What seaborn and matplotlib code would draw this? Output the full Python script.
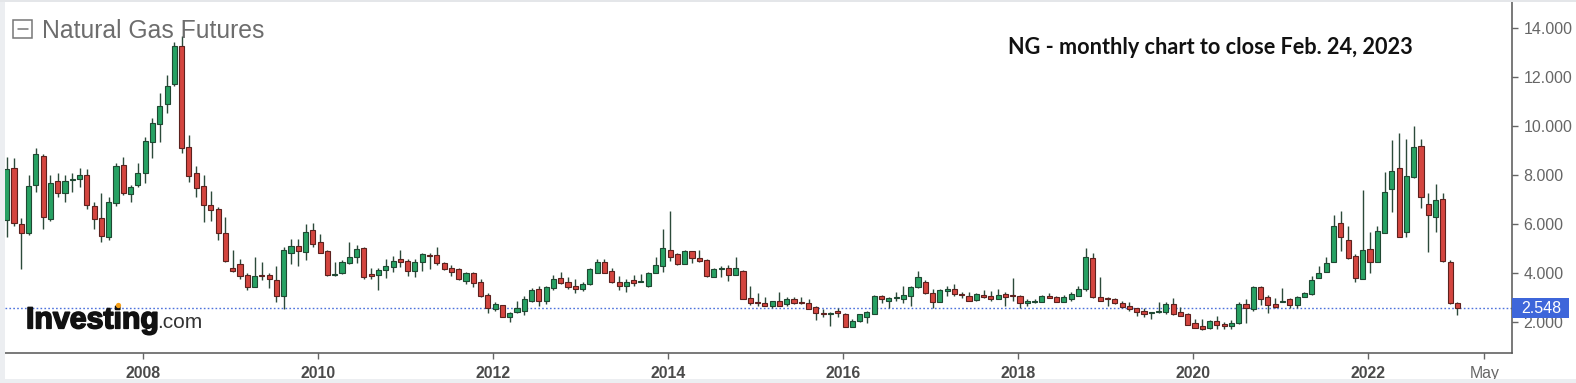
import numpy as np
import pandas as pd
import seaborn as sns
import matplotlib
matplotlib.use('Agg')
from matplotlib import pyplot as plt
from matplotlib import patheffects
from matplotlib.lines import Line2D
from matplotlib.patches import Rectangle
import matplotlib.transforms as mtransforms

# NG monthly candles, Jul 2006 .. Feb 2023
start_month = '2006-07-01'

opens = [
    6.15, 8.30, 5.98, 5.61, 7.58, 8.79, 6.22, 7.74, 7.27, 7.80,
    7.83, 7.99, 6.73, 6.26, 5.45, 6.86, 8.40, 7.24, 7.58, 8.08,
    9.35, 10.07, 10.89, 11.73, 13.29, 9.14, 8.08, 7.55, 6.77, 6.59,
    5.61, 4.20, 4.36, 3.89, 3.43, 3.93, 3.93, 3.70, 3.05, 4.82,
    5.09, 4.86, 5.77, 5.27, 4.89, 3.91, 3.98, 4.41, 4.65, 5.02,
    3.94, 3.93, 4.11, 4.22, 4.57, 4.49, 4.08, 4.45, 4.73, 4.72,
    4.42, 4.18, 4.14, 3.67, 3.98, 3.61, 3.09, 2.51, 2.68, 2.20,
    2.38, 2.45, 2.86, 3.32, 2.86, 3.36, 3.77, 3.63, 3.45, 3.35,
    3.54, 4.00, 4.45, 4.08, 3.61, 3.47, 3.70, 3.62, 3.46, 3.98,
    4.27, 4.93, 4.76, 4.38, 4.89, 4.60, 4.52, 3.84, 4.15, 4.18,
    3.91, 4.08, 2.96, 2.78, 2.75, 2.66, 2.85, 2.71, 2.92, 2.80,
    2.75, 2.59, 2.37, 2.31, 2.45, 2.31, 1.77, 2.03, 2.18, 2.31,
    3.05, 2.84, 2.95, 2.93, 3.06, 3.40, 3.63, 3.18, 2.82, 3.27,
    3.32, 3.15, 3.04, 2.89, 3.10, 3.06, 2.93, 3.13, 3.07, 3.05,
    2.75, 2.79, 2.82, 3.01, 3.00, 2.82, 2.93, 3.06, 3.32, 4.61,
    3.00, 2.94, 2.91, 2.78, 2.64, 2.55, 2.43, 2.35, 2.39, 2.38,
    2.71, 2.41, 2.31, 1.93, 1.84, 1.73, 2.04, 1.90, 1.84, 1.93,
    2.71, 2.52, 3.43, 3.02, 2.72, 2.79, 2.92, 2.68, 3.02, 3.12,
    3.80, 4.05, 4.45, 6.02, 5.34, 4.69, 3.73, 4.97, 4.45, 5.64,
    7.42, 8.30, 5.68, 7.91, 9.20, 6.81, 6.29, 7.02, 4.43, 2.78,
]
highs = [
    8.75, 8.68, 6.23, 8.00, 9.12, 8.85, 8.00, 8.07, 8.00, 8.07,
    8.27, 8.23, 6.91, 7.25, 7.09, 8.48, 8.72, 7.59, 8.48, 9.54,
    10.32, 11.37, 12.09, 13.45, 13.69, 9.64, 8.37, 8.00, 7.36, 6.70,
    6.27, 4.93, 4.55, 4.00, 4.63, 4.43, 4.00, 4.28, 5.07, 5.37,
    5.37, 5.99, 6.03, 5.59, 4.93, 4.43, 4.51, 5.25, 5.13, 5.07,
    4.18, 4.18, 4.57, 4.70, 4.93, 4.55, 4.55, 4.82, 4.82, 5.05,
    4.46, 4.30, 4.18, 4.04, 4.04, 3.74, 3.19, 2.82, 2.68, 2.41,
    2.85, 3.05, 3.37, 3.46, 3.46, 3.91, 4.02, 3.82, 3.73, 3.64,
    4.18, 4.55, 4.55, 4.18, 3.88, 3.74, 3.91, 3.95, 4.05, 4.63,
    5.79, 6.54, 4.82, 4.93, 4.91, 4.93, 4.57, 4.18, 4.28, 4.32,
    4.63, 4.12, 3.46, 3.16, 3.02, 2.85, 3.20, 3.02, 3.02, 3.02,
    2.93, 2.64, 2.52, 2.40, 2.57, 2.37, 2.10, 2.30, 2.43, 3.09,
    3.11, 3.02, 3.20, 3.46, 3.47, 4.09, 3.71, 3.33, 3.33, 3.46,
    3.53, 3.20, 3.20, 3.16, 3.30, 3.24, 3.33, 3.20, 3.77, 3.09,
    2.92, 2.92, 3.11, 3.16, 3.07, 3.09, 3.20, 3.46, 5.02, 4.79,
    3.82, 3.02, 2.95, 2.86, 2.79, 2.57, 2.57, 2.40, 2.80, 2.82,
    2.95, 2.59, 2.36, 2.10, 2.10, 2.08, 2.24, 2.00, 2.06, 2.82,
    2.92, 3.46, 3.46, 3.09, 2.96, 3.39, 2.96, 3.06, 3.23, 3.88,
    4.29, 4.66, 6.36, 6.53, 5.91, 4.76, 7.39, 5.65, 5.91, 8.13,
    9.43, 9.71, 9.46, 10.02, 9.46, 7.25, 7.62, 7.25, 4.52, 2.82,
]
lows = [
    5.48, 5.93, 4.14, 5.55, 7.32, 5.79, 6.12, 7.09, 6.91, 7.32,
    7.52, 6.61, 5.78, 5.25, 5.34, 6.73, 7.18, 6.91, 7.52, 7.69,
    8.71, 9.36, 10.52, 11.64, 8.89, 7.73, 7.09, 6.08, 6.12, 5.34,
    4.45, 4.04, 3.73, 3.30, 3.43, 3.71, 3.37, 2.82, 2.51, 4.34,
    4.28, 4.51, 5.07, 4.82, 3.87, 3.88, 3.95, 4.34, 4.39, 3.73,
    3.73, 3.30, 3.77, 4.02, 4.22, 3.88, 3.84, 4.09, 4.15, 4.32,
    4.12, 3.88, 3.71, 3.54, 3.41, 3.02, 2.36, 2.44, 2.18, 2.00,
    2.36, 2.27, 2.80, 2.64, 2.72, 3.30, 3.55, 3.33, 3.16, 3.27,
    3.50, 3.98, 3.98, 3.59, 3.30, 3.23, 3.46, 3.61, 3.43, 3.98,
    4.04, 4.49, 4.32, 4.34, 4.39, 4.46, 3.82, 3.82, 3.84, 3.66,
    3.91, 2.92, 2.68, 2.66, 2.64, 2.55, 2.64, 2.66, 2.72, 2.72,
    2.51, 2.06, 2.18, 1.82, 2.18, 1.77, 1.77, 2.00, 1.93, 2.30,
    2.75, 2.57, 2.86, 2.75, 2.64, 3.38, 3.14, 2.57, 2.80, 3.05,
    3.05, 2.96, 2.84, 2.84, 2.95, 2.86, 2.93, 2.64, 2.86, 2.57,
    2.66, 2.75, 2.82, 2.98, 2.79, 2.79, 2.86, 3.05, 3.26, 2.95,
    2.86, 2.66, 2.72, 2.55, 2.44, 2.24, 2.20, 2.13, 2.36, 2.33,
    2.27, 2.24, 1.85, 1.74, 1.66, 1.69, 1.72, 1.72, 1.72, 1.91,
    1.94, 2.43, 2.68, 2.37, 2.55, 2.79, 2.55, 2.55, 3.00, 3.09,
    3.77, 4.02, 4.45, 4.90, 4.56, 3.64, 3.73, 3.98, 4.43, 5.62,
    6.50, 5.45, 5.45, 7.86, 6.64, 4.84, 5.68, 4.45, 2.72, 2.27,
]
closes = [
    8.26, 6.04, 5.63, 7.55, 8.85, 6.29, 7.67, 7.27, 7.74, 7.85,
    8.00, 6.79, 6.22, 5.50, 6.90, 8.36, 7.27, 7.49, 8.08, 9.39,
    10.12, 10.84, 11.63, 13.29, 9.12, 7.95, 7.47, 6.79, 6.55, 5.63,
    4.48, 4.08, 3.87, 3.43, 3.87, 3.85, 3.73, 3.05, 4.93, 5.09,
    4.90, 5.65, 5.16, 4.83, 3.91, 3.95, 4.43, 4.65, 4.97, 3.84,
    3.87, 4.11, 4.27, 4.49, 4.45, 4.08, 4.45, 4.76, 4.69, 4.41,
    4.14, 4.05, 3.73, 4.00, 3.59, 3.05, 2.57, 2.71, 2.20, 2.37,
    2.55, 2.93, 3.29, 2.86, 3.40, 3.76, 3.59, 3.40, 3.35, 3.55,
    4.14, 4.45, 4.00, 3.61, 3.47, 3.63, 3.60, 3.64, 4.00, 4.31,
    5.00, 4.65, 4.38, 4.89, 4.59, 4.50, 3.88, 4.14, 4.17, 3.91,
    4.18, 2.93, 2.75, 2.77, 2.66, 2.85, 2.66, 2.92, 2.75, 2.75,
    2.53, 2.37, 2.30, 2.37, 2.37, 1.80, 2.04, 2.30, 2.41, 3.05,
    2.93, 2.97, 2.96, 3.09, 3.43, 3.81, 3.16, 2.82, 3.29, 3.32,
    3.12, 3.10, 2.86, 3.13, 3.02, 2.91, 3.09, 3.00, 3.05, 2.75,
    2.84, 2.81, 3.06, 2.99, 2.82, 3.00, 3.12, 3.33, 4.65, 3.00,
    2.86, 2.92, 2.75, 2.61, 2.50, 2.38, 2.30, 2.37, 2.41, 2.71,
    2.31, 2.25, 1.86, 1.76, 1.71, 2.04, 1.88, 1.82, 1.95, 2.71,
    2.56, 3.43, 2.93, 2.68, 2.61, 2.82, 2.68, 3.02, 3.19, 3.71,
    4.00, 4.41, 5.91, 5.48, 4.59, 3.80, 4.93, 4.45, 5.72, 7.32,
    8.18, 5.48, 7.96, 9.16, 7.11, 6.36, 6.98, 4.48, 2.75, 2.548,
]

tick_years = [2008, 2010, 2012, 2014, 2016, 2018, 2020, 2022]
y_ticks = [2, 4, 6, 8, 10, 12, 14]

df = pd.DataFrame({'date': pd.date_range(start_month, periods=len(closes), freq='MS'),
                   'open': opens, 'high': highs, 'low': lows, 'close': closes})
df['x'] = np.arange(len(df))
df['up'] = df['close'] >= df['open']

sns.set_theme(style='white')
plt.rcParams['font.family'] = ['Liberation Sans', 'DejaVu Sans']

W, H = 1576, 383
fig = plt.figure(figsize=(W / 100, H / 100), dpi=100)
fig.patch.set_facecolor('white')


def px(x, y):
    # pixel position (top-left origin) -> figure fraction
    return x / W, 1 - y / H


ax = fig.add_axes([5 / W, 1 - 353.3 / H, (1511.7 - 5) / W, 353.3 / H])
ax.set_facecolor('white')

# candles
green, red = '#27a163', '#d4453f'
body_low = df[['open', 'close']].min(axis=1)
body_h = (df['close'] - df['open']).abs().clip(lower=0.05)
ax.vlines(df['x'], df['low'], df['high'], color='#2c4a3a', lw=1.0, zorder=2)
ax.bar(df['x'], body_h, bottom=body_low, width=0.7,
       color=np.where(df['up'], green, red),
       edgecolor=np.where(df['up'], '#1f4832', '#5c211e'),
       linewidth=0.8, zorder=3)

# last price line + tag
last = closes[-1]
ax.axhline(last, color='#4d72dc', lw=1.0, ls=(0, (1.2, 1.6)), zorder=1)

ax.set_xlim(-0.23, 206.44)
ax.set_ylim(0.708, 15.157)

# x ticks: January of even years + May of the current year
tick_pos = [df.index[df['date'] == f'{y}-01-01'][0] + 0.7 for y in tick_years]
may_pos = len(df) - 1 + 3 + 0.7
ax.set_xticks(tick_pos + [may_pos])
ax.set_xticklabels([str(y) for y in tick_years] + ['May'])
for lab in ax.get_xticklabels()[:-1]:
    lab.set_fontweight('bold')
    lab.set_color('#4a4a4a')
ax.get_xticklabels()[-1].set_color('#666666')

ax.yaxis.tick_right()
ax.set_yticks(y_ticks)
ax.set_yticklabels([f'{v:.3f}' for v in y_ticks])
ax.tick_params(axis='x', direction='out', length=4, width=1, color='#666666',
               labelsize=11.4, pad=5.5, bottom=True)
ax.tick_params(axis='y', direction='out', length=4, width=1, color='#666666',
               labelsize=11.5, labelcolor='#666666', pad=4.5, right=True, left=False)
ax.grid(False)
for side in ['left', 'top']:
    ax.spines[side].set_visible(False)
for side in ['right', 'bottom']:
    ax.spines[side].set_visible(True)
    ax.spines[side].set_color('#555555')
    ax.spines[side].set_linewidth(1.1)

trans = mtransforms.blended_transform_factory(fig.transFigure, ax.transData)
box_h = 20 / 24.45
fig.add_artist(Rectangle((1511.7 / W, last - box_h / 2), (1569.3 - 1511.7) / W, box_h,
                         transform=trans, facecolor='#3e66da', edgecolor='none', zorder=5))
fig.text(1521.5 / W, last, f'{last:.3f}', transform=trans, color='white',
         ha='left', va='center', fontsize=11.5, zorder=6)

# frame around the screenshot
fig.add_artist(Rectangle((0, 0), 5 / W, 1, transform=fig.transFigure,
                         facecolor='#eceef1', edgecolor='none', zorder=4))
fig.add_artist(Rectangle((0, 0), 1, 4 / H, transform=fig.transFigure,
                         facecolor='#eceef1', edgecolor='none', zorder=4))
fig.add_artist(Rectangle((0, 1 - 1.5 / H), 1, 1.5 / H, transform=fig.transFigure,
                         facecolor='#e4e6e9', edgecolor='none', zorder=4))

# title with collapse icon
x0, y0 = px(13.3, 37.7)
x1, y1 = px(32.3, 20)
fig.add_artist(Rectangle((x0, y0), x1 - x0, y1 - y0, transform=fig.transFigure,
                         facecolor='none', edgecolor='#777777', lw=1.1, zorder=6))
fig.add_artist(Line2D([px(17.5, 0)[0], px(28.2, 0)[0]], [px(0, 29)[1]] * 2,
                      transform=fig.transFigure, color='#777777', lw=1.1, zorder=6))
fig.text(*px(41.7, 38.3), 'Natural Gas Futures', ha='left', va='baseline',
         fontsize=17.8, color='#6d6d6d', zorder=6)

# note
fig.text(*px(1210, 48), 'NG - monthly chart to close Feb. 24, 2023', ha='center', va='center',
         fontsize=15.6, family=['Lato', 'DejaVu Sans'], fontweight='bold', color='#111111', zorder=6)

# watermark
inv = fig.text(*px(26, 328.3), 'Investing', ha='left', va='baseline', fontsize=21.8,
               fontweight='bold', color='#111111', zorder=6,
               path_effects=[patheffects.withStroke(linewidth=1.2, foreground='#111111')])
fig.canvas.draw()
renderer = fig.canvas.get_renderer()
inv_box = inv.get_window_extent(renderer)
fp = inv.get_fontproperties()
w_a = renderer.get_text_width_height_descent('Invest', fp, ismath=False)[0]
w_b = renderer.get_text_width_height_descent('Investi', fp, ismath=False)[0]
fig.text(*px(inv_box.x1 - 1, 328.3), '.com', ha='left', va='baseline', fontsize=15,
         color='#333333', zorder=6)
fig.add_artist(Line2D([px(26 + (w_a + w_b) / 2 + 1, 0)[0]], [px(0, 305)[1]], marker='o', ms=3.8,
                      color='#f5a01a', mec='none', transform=fig.transFigure, zorder=7))

fig.savefig('out.png', dpi=100)
